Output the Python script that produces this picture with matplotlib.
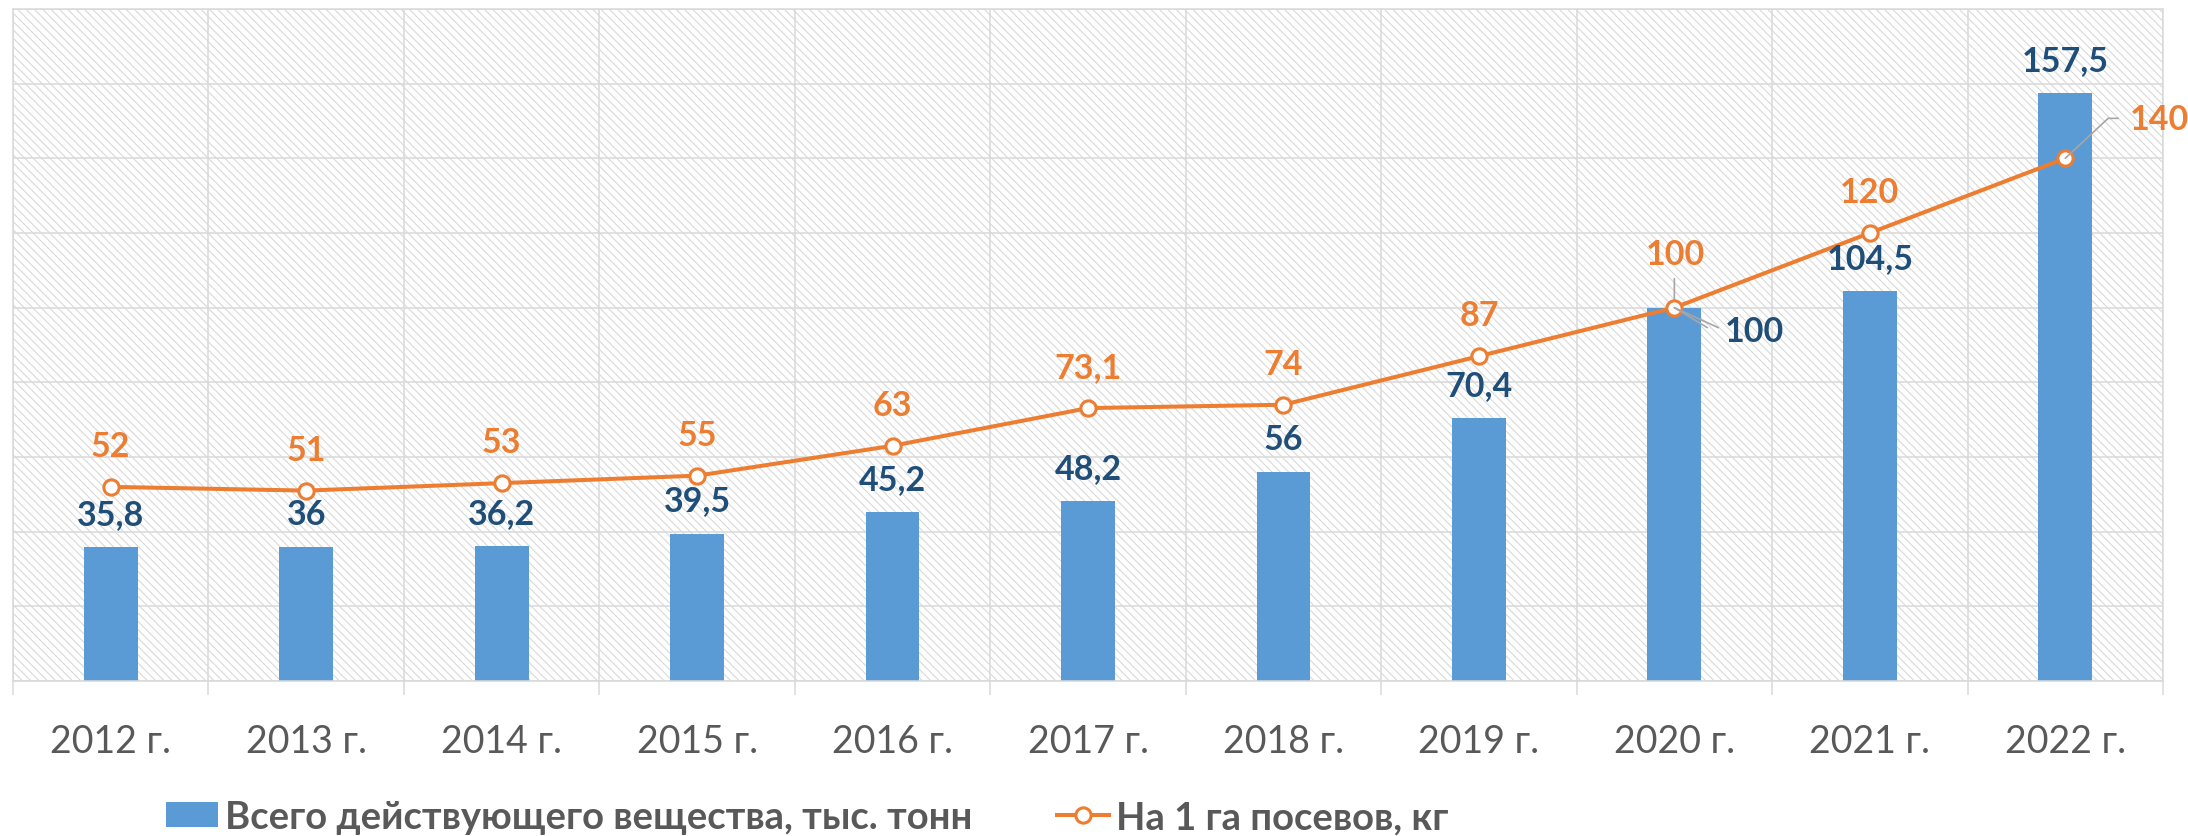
import matplotlib
matplotlib.use("Agg")
import matplotlib.pyplot as plt
from matplotlib.patches import Rectangle
import numpy as np

years = ["2012 г.", "2013 г.", "2014 г.", "2015 г.", "2016 г.", "2017 г.",
         "2018 г.", "2019 г.", "2020 г.", "2021 г.", "2022 г."]
total_substance = [35.8, 36, 36.2, 39.5, 45.2, 48.2, 56, 70.4, 100, 104.5, 157.5]
per_hectare = [52, 51, 53, 55, 63, 73.1, 74, 87, 100, 120, 140]
bar_label_text = ["35,8", "36", "36,2", "39,5", "45,2", "48,2", "56", "70,4", "100", "104,5", "157,5"]
line_label_text = ["52", "51", "53", "55", "63", "73,1", "74", "87", "100", "120", "140"]
series_names = ["Всего действующего вещества, тыс. тонн", "На 1 га посевов, кг"]

BAR_C = "#5B9BD5"
LINE_C = "#ED7D31"
BAR_LBL_C = "#1F4E79"
GRID_C = "#D9D9D9"
TXT_C = "#595959"
LEAD_C = "#A6A6A6"

plt.rcParams['font.family'] = ['Lato', 'DejaVu Sans']
plt.rcParams['hatch.linewidth'] = 0.8

W, H = 2188, 837
fig = plt.figure(figsize=(W / 100, H / 100), dpi=100)
ax = fig.add_axes([13 / W, 155 / H, (2163 - 13) / W, (682 - 10) / H])

x = np.arange(len(years))

# hatched background
bg = Rectangle((0, 0), 1, 1, transform=ax.transAxes, facecolor="white",
               edgecolor=GRID_C, hatch="\\\\\\\\", linewidth=0, zorder=0.1)
ax.add_patch(bg)

ax.set_xlim(-0.5, len(years) - 0.5)
ax.set_ylim(0, 180)
ax.set_yticks(np.arange(0, 181, 20))
ax.set_yticklabels([])
ax.tick_params(axis='y', length=0)
ax.set_axisbelow(True)
ax.yaxis.grid(True, color=GRID_C, linewidth=1.1, zorder=0.5)
ax.set_xticks(np.arange(-0.5, len(years), 1.0), minor=True)
ax.xaxis.grid(True, which='minor', color=GRID_C, linewidth=1.1, zorder=0.5)
ax.set_xticks(x)
ax.set_xticklabels(years, fontsize=27, color=TXT_C)
ax.tick_params(axis='x', which='major', length=0, pad=30)
ax.tick_params(axis='x', which='minor', length=10, width=1.1, color=GRID_C)
for s in ax.spines.values():
    s.set_color(GRID_C)
    s.set_linewidth(1.1)

bars = ax.bar(x, total_substance, width=0.275, color=BAR_C, zorder=2,
              label=series_names[0])
line, = ax.plot(x, per_hectare, color=LINE_C, linewidth=2.9, marker='o',
                markersize=11, markerfacecolor='white', markeredgecolor=LINE_C,
                markeredgewidth=2.2, zorder=3, label=series_names[1])

LBL_FS = 24.5

# bar labels
for i, (v, t) in enumerate(zip(total_substance, bar_label_text)):
    if i == 8:
        ax.annotate(t, xy=(i, v), xytext=(80, -23), textcoords='offset pixels',
                    ha='center', va='center', fontsize=LBL_FS, fontweight='bold',
                    color=BAR_LBL_C, zorder=5)
        ax.annotate("", xy=(i, v), xytext=(44, -20), textcoords='offset pixels',
                    arrowprops=dict(arrowstyle='-', color=LEAD_C, lw=1.2,
                                    shrinkA=0, shrinkB=0), zorder=4)
        ax.annotate("", xy=(i, v), xytext=(33, -20), textcoords='offset pixels',
                    arrowprops=dict(arrowstyle='-', color=LEAD_C, lw=1.2,
                                    shrinkA=0, shrinkB=0), zorder=4)
        continue
    ax.annotate(t, xy=(i, v), xytext=(0, 33), textcoords='offset pixels',
                ha='center', va='center', fontsize=LBL_FS, fontweight='bold',
                color=BAR_LBL_C, zorder=5)

# line labels
for i, (v, t) in enumerate(zip(per_hectare, line_label_text)):
    if i == 8:
        ax.annotate(t, xy=(i, v), xytext=(1, 54), textcoords='offset pixels',
                    ha='center', va='center', fontsize=LBL_FS, fontweight='bold',
                    color=LINE_C, zorder=5)
        ax.annotate("", xy=(i, v), xytext=(0, 29), textcoords='offset pixels',
                    arrowprops=dict(arrowstyle='-', color=LEAD_C, lw=1.2,
                                    shrinkA=0, shrinkB=0), zorder=2.5)
        continue
    if i == 10:
        ax.annotate(t, xy=(i, v), xytext=(64, 39), textcoords='offset pixels',
                    ha='left', va='center', fontsize=LBL_FS, fontweight='bold',
                    color=LINE_C, zorder=5, annotation_clip=False)
        ax.annotate("", xy=(i, v), xytext=(53, 40), textcoords='offset pixels',
                    arrowprops=dict(arrowstyle='-', color=LEAD_C, lw=1.2,
                                    shrinkA=0, shrinkB=0,
                                    connectionstyle="angle,angleA=0,angleB=43,rad=0"),
                    zorder=4, annotation_clip=False)
        continue
    ax.annotate(t, xy=(i, v), xytext=(0, 41), textcoords='offset pixels',
                ha='center', va='center', fontsize=LBL_FS, fontweight='bold',
                color=LINE_C, zorder=5)

leg = fig.legend(handles=[bars, line], labels=series_names, loc='center left',
                 bbox_to_anchor=(166 / W, 1 - 818 / H), bbox_transform=fig.transFigure,
                 ncol=2, frameon=False, borderpad=0, borderaxespad=0,
                 fontsize=27.5, handlelength=1.37, handleheight=0.62,
                 handletextpad=0.18, columnspacing=2.2)
for t in leg.get_texts():
    t.set_color(TXT_C)
    t.set_fontweight('bold')

fig.savefig("out.png", dpi=100)
